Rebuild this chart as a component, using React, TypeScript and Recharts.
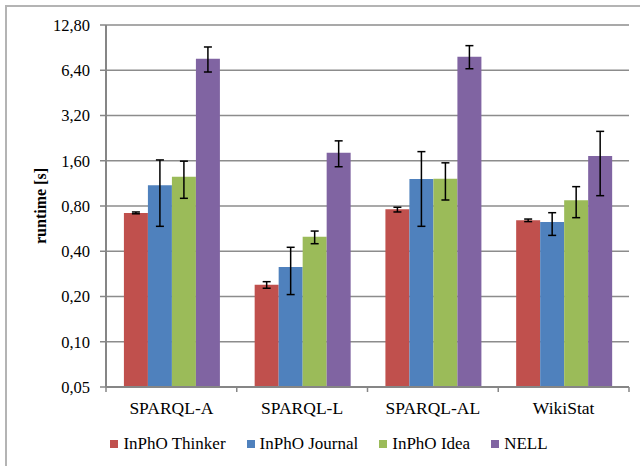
import React from 'react';
import { BarChart, Bar, XAxis, YAxis, CartesianGrid, ErrorBar } from 'recharts';

const categories = ['SPARQL-A', 'SPARQL-L', 'SPARQL-AL', 'WikiStat'];
const seriesNames = ['InPhO Thinker', 'InPhO Journal', 'InPhO Idea', 'NELL'];
const seriesColors = ['#C0504D', '#4F81BD', '#9BBB59', '#8064A2'];

const thinker = [0.72, 0.239, 0.76, 0.643];
const thinkerLow = [0.71, 0.227, 0.73, 0.63];
const thinkerHigh = [0.73, 0.251, 0.785, 0.655];

const journal = [1.1, 0.314, 1.21, 0.626];
const journalLow = [0.586, 0.206, 0.586, 0.51];
const journalHigh = [1.62, 0.425, 1.84, 0.722];

const idea = [1.25, 0.5, 1.215, 0.873];
const ideaLow = [0.9, 0.449, 0.877, 0.669];
const ideaHigh = [1.59, 0.545, 1.55, 1.076];

const nell = [7.64, 1.81, 7.88, 1.72];
const nellLow = [6.23, 1.46, 6.55, 0.937];
const nellHigh = [9.14, 2.17, 9.33, 2.51];

const yTicks = [0.05, 0.1, 0.2, 0.4, 0.8, 1.6, 3.2, 6.4, 12.8];

const seriesValues = [thinker, journal, idea, nell];
const seriesLows = [thinkerLow, journalLow, ideaLow, nellLow];
const seriesHighs = [thinkerHigh, journalHigh, ideaHigh, nellHigh];
const keys = ['s0', 's1', 's2', 's3'];

const data = categories.map((c, i) => {
  const row: any = { name: c };
  keys.forEach((k, s) => {
    const v = seriesValues[s][i];
    row[k] = v;
    row[k + 'err'] = [v - seriesLows[s][i], seriesHighs[s][i] - v];
  });
  return row;
});

const FONT = 'Liberation Serif, DejaVu Serif, Times New Roman, serif';

const fmt = (v: number) => v.toFixed(2).replace('.', ',');

const XTick = (props: any) => {
  const { x, y, payload, index } = props;
  const half = payload && payload.offset != null ? payload.offset : 65.4;
  const axisY = y - 15;
  const last = index === categories.length - 1;
  return (
    <g>
      <line x1={x - half} x2={x - half} y1={axisY} y2={axisY + 5} stroke="#868686" strokeWidth={1.5} />
      {last && <line x1={x + half} x2={x + half} y1={axisY} y2={axisY + 5} stroke="#868686" strokeWidth={1.5} />}
      <text x={x} y={y} dy="0.71em" textAnchor="middle" fill="#000" fontSize={17.5} style={{ fontFamily: FONT }}>
        {payload.value}
      </text>
    </g>
  );
};

const YTick = (props: any) => {
  const { x, y, payload } = props;
  return (
    <text x={x} y={y} dy="0.355em" textAnchor="end" fill="#000" fontSize={16.5} style={{ fontFamily: FONT }}>
      {fmt(payload.value)}
    </text>
  );
};

export default function App() {
  return (
    <div style={{ position: 'absolute', left: 0, top: 0, width: 640, height: 466, overflow: 'hidden', background: '#fff', fontFamily: FONT }}>
      <div
        style={{
          position: 'absolute',
          left: 5,
          top: 5,
          width: 635,
          height: 461,
          boxSizing: 'border-box',
          borderLeft: '2px solid #b4b4b4',
          borderTop: '2px solid #b4b4b4',
        }}
      />
      <div style={{ position: 'absolute', left: 0, top: 0 }}>
        <BarChart
          width={640}
          height={466}
          data={data}
          margin={{ top: 25, right: 11, bottom: 49, left: 0 }}
          barCategoryGap="13.7%"
          barGap={0}
          style={{ fontFamily: FONT }}
        >
          <CartesianGrid vertical={false} stroke="#8c8c8c" strokeWidth={1.5} />
          <XAxis
            dataKey="name"
            height={30}
            tickSize={5}
            tickMargin={10}
            tickLine={false}
            axisLine={{ stroke: '#868686', strokeWidth: 2 }}
            tick={<XTick />}
            interval={0}
          />
          <YAxis
            type="number"
            scale="log"
            domain={[0.05, 12.8]}
            allowDataOverflow
            ticks={yTicks}
            interval={0}
            width={106}
            tickSize={6}
            tickMargin={10}
            tick={<YTick />}
            tickLine={{ stroke: '#868686', strokeWidth: 1.5 }}
            axisLine={{ stroke: '#868686', strokeWidth: 2 }}
            label={{
              content: () => (
                <text
                  x={40}
                  y={206}
                  transform="rotate(-90, 40, 206)"
                  textAnchor="middle"
                  dominantBaseline="central"
                  fontWeight="bold"
                  fontSize={16}
                  fill="#000"
                  style={{ fontFamily: FONT }}
                >
                  runtime [s]
                </text>
              ),
            }}
          />
          {keys.map((k, s) => (
            <Bar key={k} dataKey={k} name={seriesNames[s]} fill={seriesColors[s]} isAnimationActive={false}>
              <ErrorBar dataKey={k + 'err'} width={4} stroke="#000" strokeWidth={1.5} direction="y" />
            </Bar>
          ))}
        </BarChart>
      </div>
      <div
        style={{
          position: 'absolute',
          left: 0,
          top: 432,
          width: 658,
          display: 'flex',
          justifyContent: 'center',
          fontFamily: FONT,
          fontSize: 17,
          color: '#000',
          lineHeight: '24px',
        }}
      >
        {seriesNames.map((n, s) => (
          <div key={n} style={{ display: 'flex', alignItems: 'center', marginRight: s < seriesNames.length - 1 ? 21 : 0 }}>
            <span style={{ display: 'inline-block', width: 8, height: 8, background: seriesColors[s], marginRight: 5 }} />
            <span>{n}</span>
          </div>
        ))}
      </div>
    </div>
  );
}
